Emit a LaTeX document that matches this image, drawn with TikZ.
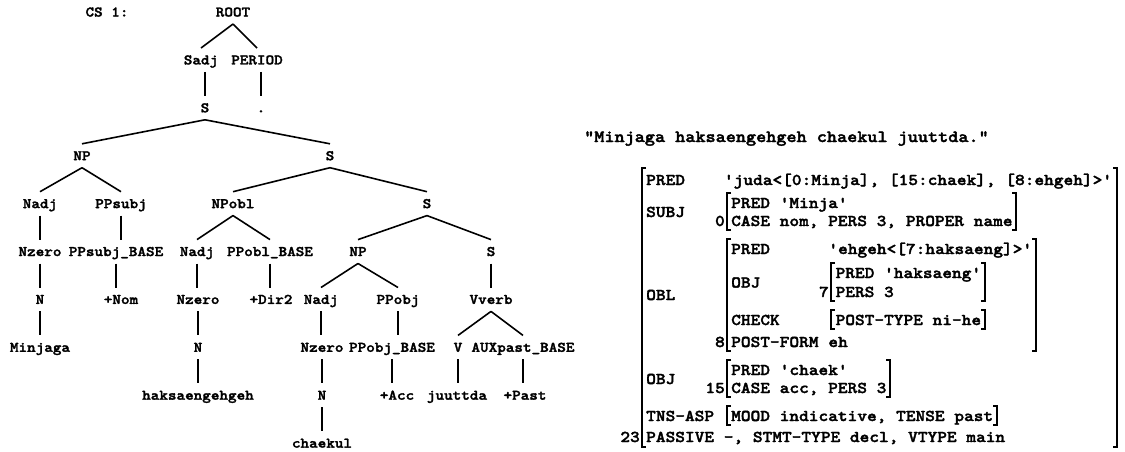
\documentclass[tikz,border=0pt]{standalone}
\usepackage{fontspec}
\newfontfamily\monofam{lmmonolt10-bold.otf}[FakeStretch=1.12, FakeBold=2]
\newcommand\treefnt{\monofam\fontsize{14.6}{14.6}\selectfont}
\newcommand\fsfnt{\monofam\fontsize{16.5}{16.5}\selectfont}
\newcommand\sentfnt{\monofam\fontsize{17.2}{17.2}\selectfont}
\tikzset{
  tn/.style={font=\treefnt, inner sep=0pt, outer xsep=0pt, outer ysep=7.5pt,
             text height=8.9pt, text depth=0pt, anchor=base},
  edge/.style={line width=1.6pt},
  fst/.style={font=\fsfnt, inner sep=0pt, anchor=base west},
  fse/.style={font=\fsfnt, inner sep=0pt, anchor=base east},
  br/.style={line width=1.5pt},
}
\newcommand\lbr[3]{\draw[br] (#1+4,#2) -- (#1,#2) -- (#1,#3) -- (#1+4,#3);}
\newcommand\rbr[3]{\draw[br] (#1-4,#2) -- (#1,#2) -- (#1,#3) -- (#1-4,#3);}
\begin{document}
\begin{tikzpicture}[x=1pt,y=-1pt]
\useasboundingbox (0,0) rectangle (1125,451);
% ---------- tree ----------
\node[tn] (cs) at (107,16.5) {CS 1:};
\node[tn] (root) at (233,16.5) {ROOT};
\node[tn] (sadj) at (201,64.4) {Sadj};
\node[tn] (period) at (257,64.4) {PERIOD};
\node[tn] (s1) at (205,112.3) {S};
\node[tn] (dot) at (261,112.3) {.};
\node[tn] (np1) at (82,160.2) {NP};
\node[tn] (s2) at (330,160.2) {S};
\node[tn] (nadj1) at (40,208.1) {Nadj};
\node[tn] (ppsubj) at (121,208.1) {PPsubj};
\node[tn] (npobl) at (233,208.1) {NPobl};
\node[tn] (s3) at (427,208.1) {S};
\node[tn] (nzero1) at (40,256) {Nzero};
\node[tn] (ppsubjb) at (116,256) {PPsubj\_BASE};
\node[tn] (nadj2) at (197,256) {Nadj};
\node[tn] (ppoblb) at (270,256) {PPobl\_BASE};
\node[tn] (np2) at (358,256) {NP};
\node[tn] (s4) at (491,256) {S};
\node[tn] (n1) at (40,303.9) {N};
\node[tn] (nom) at (121,303.9) {+Nom};
\node[tn] (nzero2) at (198,303.9) {Nzero};
\node[tn] (dir2) at (271,303.9) {+Dir2};
\node[tn] (nadj3) at (321,303.9) {Nadj};
\node[tn] (ppobj) at (398,303.9) {PPobj};
\node[tn] (vverb) at (491,303.9) {Vverb};
\node[tn] (minjaga) at (40,351.8) {Minjaga};
\node[tn] (n2) at (198,351.8) {N};
\node[tn] (nzero3) at (322,351.8) {Nzero};
\node[tn] (ppobjb) at (392,351.8) {PPobj\_BASE};
\node[tn] (v) at (458,351.8) {V};
\node[tn] (auxb) at (523,351.8) {AUXpast\_BASE};
\node[tn] (haks) at (198,399.7) {haksaengehgeh};
\node[tn] (n3) at (322,399.7) {N};
\node[tn] (acc) at (397,399.7) {+Acc};
\node[tn] (juuttda) at (457,399.7) {juuttda};
\node[tn] (past) at (525,399.7) {+Past};
\node[tn] (chaekul) at (322,447.6) {chaekul};
% branching edges
\foreach \p/\c in {root/sadj, root/period, s1/np1, s1/s2, np1/nadj1, np1/ppsubj,
  s2/npobl, s2/s3, npobl/nadj2, npobl/ppoblb, s3/np2, s3/s4, np2/nadj3, np2/ppobj,
  vverb/v, vverb/auxb}
  \draw[edge] (\p.south) -- (\c.north);
% unary edges (vertical, at the child's x)
\foreach \p/\c in {sadj/s1, period/dot}
  \draw[edge] (\p.south -| \c.north) -- (\c.north);
% unary edges (vertical, at the parent's x)
\foreach \p/\c in {nadj1/nzero1, nzero1/n1, n1/minjaga, ppsubj/ppsubjb, ppsubjb/nom,
  nadj2/nzero2, nzero2/n2, n2/haks, ppoblb/dir2, s4/vverb, nadj3/nzero3, nzero3/n3,
  n3/chaekul, ppobj/ppobjb, ppobjb/acc, v/juuttda, auxb/past}
  \draw[edge] (\p.south) -- (\p.south |- \c.north);
% ---------- sentence ----------
\node[font=\sentfnt, inner sep=0pt, anchor=base west] (sent) at (584,142) {"Minjaga haksaengehgeh chaekul juuttda."};
% ---------- f-structure ----------
\node[fst] (l1) at (646,185) {PRED};
\node[fst] (v1) at (723.8,185) {'juda<[0:Minja], [15:chaek], [8:ehgeh]>'};
\node[fst] (subj) at (646,217) {SUBJ};
\node[fst] (s1a) at (731,208) {PRED 'Minja'};
\node[fst] (s1b) at (731,226) {CASE nom, PERS 3, PROPER name};
\node[fse] (i0) at (725,226) {0};
\node[fst] (obl) at (646,300) {OBL};
\node[fst] (o1) at (731,254) {PRED};
\node[fst] (o1v) at (828.2,254) {'ehgeh<[7:haksaeng]>'};
\node[fst] (oobj) at (731,287.5) {OBJ};
\node[fst] (o2a) at (835.4,278) {PRED 'haksaeng'};
\node[fst] (o2b) at (835.4,297) {PERS 3};
\node[fse] (i7) at (829,297) {7};
\node[fst] (ochk) at (731,325) {CHECK};
\node[fst] (o3) at (835.4,325) {POST-TYPE ni-he};
\node[fst] (opf) at (731,347) {POST-FORM};
\node[fst] (opfv) at (828.2,347) {eh};
\node[fse] (i8) at (725,347) {8};
\node[fst] (obj) at (646,384) {OBJ};
\node[fst] (b1) at (731,375) {PRED 'chaek'};
\node[fst] (b2) at (731,393) {CASE acc, PERS 3};
\node[fse] (i15) at (725,393) {15};
\node[fst] (tns) at (646,421) {TNS-ASP};
\node[fst] (tnsv) at (731,421) {MOOD indicative, TENSE past};
\node[fst] (pas) at (646,442) {PASSIVE -, STMT-TYPE decl, VTYPE main};
\node[fse] (i23) at (640,442) {23};
% brackets
\lbr{642}{168}{447} \rbr{1117}{168}{447}
\lbr{727}{193}{230} \rbr{1016}{193}{230}
\lbr{727}{239}{351} \rbr{1036}{239}{351}
\lbr{831}{263}{301} \rbr{985}{263}{301}
\lbr{831}{310}{329} \rbr{985}{310}{329}
\lbr{727}{360}{397} \rbr{890}{360}{397}
\lbr{727}{406}{425} \rbr{997}{406}{425}
\end{tikzpicture}
\end{document}
